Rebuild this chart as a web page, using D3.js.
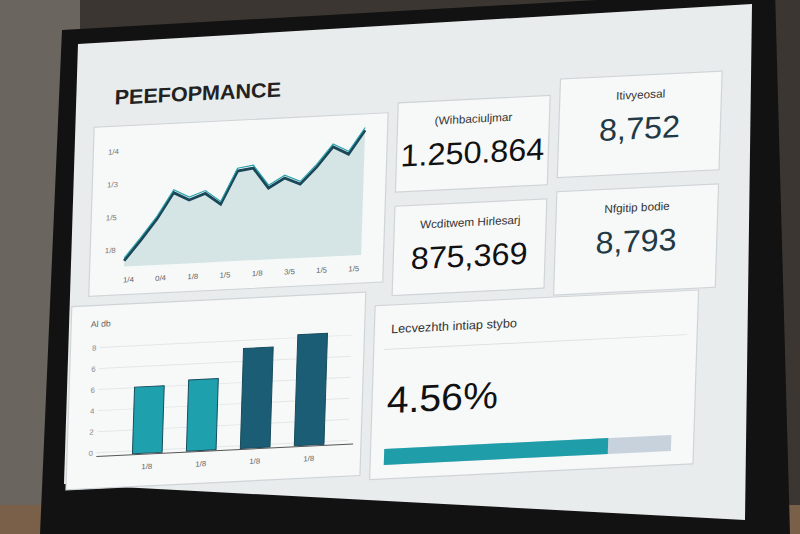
<!DOCTYPE html>
<html><head><meta charset="utf-8">
<script src="https://cdn.jsdelivr.net/npm/d3@7"></script>
<style>body{margin:0;background:#2a2622;}svg{display:block}</style>
</head><body>
<svg id="chart" width="800" height="534"></svg>
<script>
// line chart values
const lineX = [0,1,2,3,4,5,6,7,8,9,10,11,12,13,14,15];
const lineY = [5,22,40,62,55,60,50,78,80,62,70,64,78,95,88,108];
const lineTicks = ["1/4","0/4","1/8","1/5","1/8","3/5","1/5","1/5"];
const lineYTicks = ["1/4","1/3","1/5","1/8"];
// bar chart values
const barCats = ["1/8","1/8","1/8","1/8"];
const barVals = [60, 64, 90, 100];
const barYTicks = ["8","6","6","4","2","0"];
// kpis
const kpiLabels = ["(Wihbaciuljmar","Itivyeosal","Wcditwem Hirlesarj","Nfgitip bodie"];
const kpiValues = ["1.250.864","8,752","875,369","8,793"];
const progLabel = "Lecvezhth intiap stybo";
const progValue = "4.56%";
const progShare = 0.78;

const svg = d3.select("#chart");
const font = "Liberation Sans, Arial, sans-serif";

// room / monitor
svg.append("rect").attr("width",800).attr("height",534).attr("fill","#3b3631");
svg.append("rect").attr("x",0).attr("y",0).attr("width",80).attr("height",534).attr("fill","#6a655f");
svg.append("rect").attr("x",0).attr("y",505).attr("width",800).attr("height",29).attr("fill","#7a6048");
svg.append("polygon").attr("points","62,30 775,-10 790,534 40,534").attr("fill","#121212");
svg.append("polygon").attr("points","78,44 752,4 745,520 64,484").attr("fill","#e9eced");

const g = svg.append("g").attr("transform","matrix(0.98,-0.048,-0.03,0.94,82,48)");

g.append("text").attr("x",35).attr("y",62).text("PEEFOPMANCE")
  .attr("font-family",font).attr("font-size",22).attr("font-weight",600).attr("fill","#222");

function panel(x,y,w,h){
  g.append("rect").attr("x",x).attr("y",y).attr("width",w).attr("height",h)
   .attr("fill","#f7f8f8").attr("stroke","#cfd4d7").attr("stroke-width",1.2);
}

// line panel
panel(15,85,300,180);
const lx = d3.scaleLinear().domain([0,15]).range([50,292]);
const ly = d3.scaleLinear().domain([0,110]).range([235,100]);
const area = d3.area().x((d,i)=>lx(lineX[i])).y0(235).y1(d=>ly(d));
const line = d3.line().x((d,i)=>lx(lineX[i])).y(d=>ly(d));
g.append("path").attr("d",area(lineY)).attr("fill","#d5e5e6");
g.append("path").attr("d",line(lineY)).attr("fill","none").attr("stroke","#1b4858").attr("stroke-width",3);
g.append("path").attr("d",line(lineY)).attr("fill","none").attr("stroke","#2aa2ad").attr("stroke-width",1.2).attr("transform","translate(0,-3)");
const ltx = d3.scalePoint().domain(d3.range(lineTicks.length)).range([55,285]);
lineTicks.forEach((t,i)=>g.append("text").attr("x",ltx(i)).attr("y",252).attr("text-anchor","middle")
  .attr("font-size",8).attr("font-family",font).attr("fill","#666").text(t));
const lyt = d3.scalePoint().domain(d3.range(lineYTicks.length)).range([115,220]);
lineYTicks.forEach((t,i)=>g.append("text").attr("x",30).attr("y",lyt(i)).attr("font-size",8)
  .attr("font-family",font).attr("fill","#777").text(t));

// KPI cards
const cards = [[325,75,155,95],[490,58,165,105],[325,185,155,95],[490,178,165,110]];
cards.forEach((c,i)=>{
  panel(c[0],c[1],c[2],c[3]);
  g.append("text").attr("x",c[0]+c[2]/2).attr("y",c[1]+25).attr("text-anchor","middle")
    .attr("font-family",font).attr("font-size",12).attr("fill","#333").text(kpiLabels[i]);
  g.append("text").attr("x",c[0]+c[2]/2).attr("y",c[1]+68).attr("text-anchor","middle")
    .attr("font-family",font).attr("font-size",33).attr("fill",i%2? "#223a45":"#111").text(kpiValues[i]);
});

// bar panel
panel(-2,275,300,195);
g.append("text").attr("x",18).attr("y",298).attr("font-size",9).attr("font-family",font).attr("fill","#666").text("Al db");
const bx = d3.scaleBand().domain(d3.range(barVals.length)).range([40,285]).padding(0.45);
const by = d3.scaleLinear().domain([0,110]).range([435,305]);
const byt = d3.scalePoint().domain(d3.range(barYTicks.length)).range([320,432]);
barYTicks.forEach((t,i)=>{
  g.append("line").attr("x1",28).attr("x2",285).attr("y1",byt(i)).attr("y2",byt(i)).attr("stroke","#e3e6e8");
  g.append("text").attr("x",20).attr("y",byt(i)+3).attr("font-size",8).attr("font-family",font).attr("fill","#888").text(t);
});
const barCol = ["#1fa0ad","#1fa0ad","#1c5d76","#1c5d76"];
g.selectAll(".bar").data(barVals).join("rect")
  .attr("x",(d,i)=>bx(i)).attr("y",d=>by(d)).attr("width",bx.bandwidth()).attr("height",d=>435-by(d))
  .attr("fill",(d,i)=>barCol[i]).attr("stroke","#164a5c").attr("stroke-width",1);
g.append("line").attr("x1",28).attr("x2",290).attr("y1",436).attr("y2",436).attr("stroke","#555");
barCats.forEach((t,i)=>g.append("text").attr("x",bx(i)+bx.bandwidth()/2).attr("y",452).attr("text-anchor","middle")
  .attr("font-size",8).attr("font-family",font).attr("fill","#666").text(t));

// progress panel
panel(308,290,330,185);
g.append("text").attr("x",325).attr("y",320).attr("font-family",font).attr("font-size",13).attr("fill","#333").text(progLabel);
g.append("line").attr("x1",318).attr("x2",628).attr("y1",337).attr("y2",337).attr("stroke","#dde1e3");
g.append("text").attr("x",323).attr("y",405).attr("font-family",font).attr("font-size",40).attr("fill","#111").text(progValue);
const px = d3.scaleLinear().domain([0,1]).range([322,615]);
g.append("rect").attr("x",px(0)).attr("y",443).attr("width",px(1)-px(0)).attr("height",17).attr("fill","#c8d2dc");
g.append("rect").attr("x",px(0)).attr("y",443).attr("width",px(progShare)-px(0)).attr("height",17).attr("fill","#1f9ea9");
</script>
</body></html>
